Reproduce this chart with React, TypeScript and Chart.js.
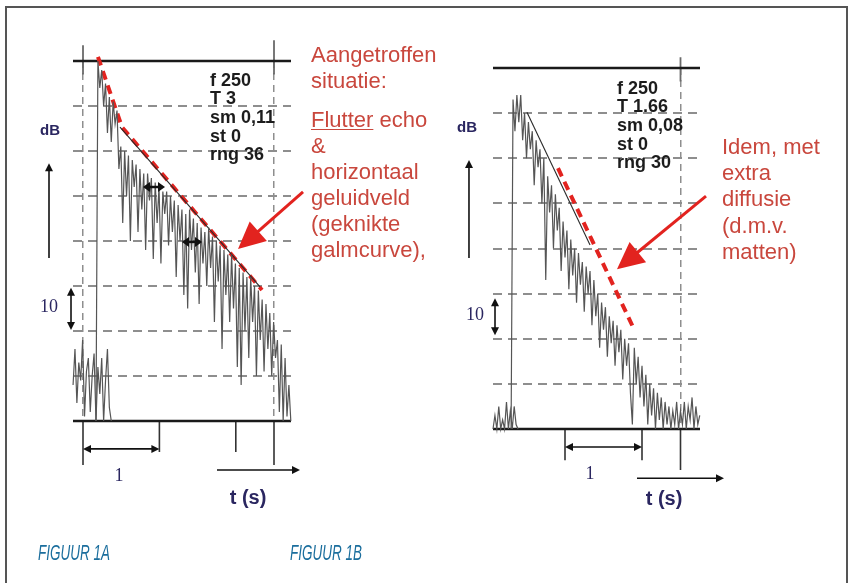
import React, { useEffect, useRef } from "react";
import { Chart, registerables } from "chart.js";

Chart.register(...registerables);

const W = 848;
const H = 583;
const STEP = 0.025; // seconds between samples of the decay traces

// ---------------- Figure 1A data ----------------
const A_NOISE_START = -0.13;
const A_NOISE = [-72, -64, -76, -67, -71, -62, -79, -69, -66, -78, -70, -65, -80, -68, -74, -66, -80, -71, -64, -77, -80];
const A_DECAY_START = 0.17;
const A_DECAY = [
  -80, 0, -6, -2, -10, -5, -16, -8, -18, -9,
  -14, -11, -24, -19, -36, -20, -30, -21, -40, -22,
  -28, -23, -38, -24, -33, -25, -42, -25, -31, -26,
  -44, -27, -36, -28, -45, -29, -34, -29, -41, -30,
  -38, -31, -48, -32, -40, -33, -52, -34, -55, -33,
  -42, -35, -47, -36, -54, -37, -45, -38, -50, -37,
  -46, -39, -58, -40, -49, -41, -64, -42, -52, -43,
  -58, -43, -55, -45, -68, -46, -72, -47, -60, -48,
  -66, -48, -58, -50, -70, -51, -62, -53, -69, -54,
  -64, -56, -70, -58, -66, -62, -78, -63, -80, -66,
  -79, -72, -80,
];
const A_FIT_T = [0.484, 2.317];
const A_FIT_DB = [-14.7, -50.2];
const A_RED_T = [0.196, 0.51, 2.343];
const A_RED_DB = [0.9, -14.7, -50.9];
const A_GRID_DB = [-10, -20, -30, -40, -50, -60, -70];
const A_GRID_T = [0, 2.5];
const A_TICKS_T = [0, 1, 2, 2.5];
const A_STATS = ["f 250", "T 3", "sm 0,11", "st 0", "rng 36"];
const A_NOTE = ["Aangetroffen", "situatie:", "", "Flutter echo", "&", "horizontaal", "geluidveld", "(geknikte", "galmcurve),"];
const A_CAPTION = "FIGUUR 1A";

// ---------------- Figure 1B data ----------------
const B_NOISE_START = 0.065;
const B_NOISE = [-80, -77, -80, -75, -80, -78, -80, -74, -80, -76, -80, -75, -79, -80];
const B_DECAY_START = 0.3;
const B_DECAY = [
  -80, -7, -14, -6, -12, -6, -16, -10, -20, -12,
  -18, -14, -26, -16, -22, -18, -30, -20, -47, -24,
  -32, -26, -40, -28, -36, -31, -45, -34, -42, -36,
  -49, -38, -46, -40, -52, -41, -48, -43, -54, -44,
  -50, -45, -57, -47, -55, -50, -62, -52, -58, -53,
  -64, -55, -61, -56, -66, -57, -63, -58, -69, -60,
  -66, -61, -72, -79, -62, -70, -64, -73, -66, -75,
  -68, -79, -70, -77, -71, -80, -72, -78, -73, -80,
  -74, -79, -75, -80, -76, -79, -74, -80, -76, -79,
  -74, -80, -75, -78, -73, -80, -75, -79, -77,
];
const B_FIT_T = [0.506, 1.325];
const B_FIT_DB = [-9.8, -39.2];
const B_RED_T = [0.909, 1.883];
const B_RED_DB = [-22.2, -57.4];
const B_GRID_DB = [-10, -20, -30, -40, -50, -60, -70];
const B_GRID_T = [2.5];
const B_TICKS_T = [1, 2, 2.5];
const B_STATS = ["f 250", "T 1.66", "sm 0,08", "st 0", "rng 30"];
const B_NOTE = ["Idem, met", "extra", "diffusie", "(d.m.v.", "matten)"];
const B_CAPTION = "FIGUUR 1B";

const AXIS_TEXT = { db: "dB", ten: "10", one: "1", time: "t (s)" };

// ---------------- geometry / styling (not data) ----------------
const GEO_A = { left: 73, right: 291, top: 61, bottom: 421, t0: 83, pps: 76.4 };
const GEO_B = { left: 493, right: 700, top: 68, bottom: 429, t0: 488, pps: 77 };

const RED = "#e2231f";
const TRACE = "#555555";
const NAVY = "#2a2660";
const NOTE_RED = "#c9473d";

type Arrow = { from: number[]; to: number[]; both?: boolean; color: string; width: number; head: number; headW: number };

const BLACK_ARROW = { color: "#111", width: 1.6, head: 8, headW: 8 };

const FIG_A = {
  geo: GEO_A,
  vGrid: A_GRID_T,
  hGrid: A_GRID_DB,
  noise: { start: A_NOISE_START, vals: A_NOISE },
  decay: { start: A_DECAY_START, vals: A_DECAY },
  fit: { t: A_FIT_T, db: A_FIT_DB },
  red: { t: A_RED_T, db: A_RED_DB },
  topExt: [
    [0, 3.5, -3],
    [2.5, 4.6, -3],
  ],
  ticks: A_TICKS_T,
  tickDepth: [-89.8, -86.9, -86.9, -89.8],
  arrows: [
    { from: [0, -86.2], to: [1, -86.2], both: true, ...BLACK_ARROW },
    { from: [1.754, -90.9], to: [2.84, -90.9], ...BLACK_ARROW },
    { from: [-0.445, -43.8], to: [-0.445, -22.7], ...BLACK_ARROW },
    { from: [-0.157, -50.4], to: [-0.157, -59.8], both: true, ...BLACK_ARROW },
    { from: [0.785, -28], to: [1.073, -28], both: true, color: "#111", width: 2.5, head: 7, headW: 10 },
    { from: [1.296, -40.2], to: [1.558, -40.2], both: true, color: "#111", width: 2.5, head: 7, headW: 10 },
    { from: [2.88, -29.1], to: [2.029, -41.8], color: RED, width: 3, head: 27, headW: 26 },
  ] as Arrow[],
};

const FIG_B = {
  geo: GEO_B,
  vGrid: B_GRID_T,
  hGrid: B_GRID_DB,
  noise: { start: B_NOISE_START, vals: B_NOISE },
  decay: { start: B_DECAY_START, vals: B_DECAY },
  fit: { t: B_FIT_T, db: B_FIT_DB },
  red: { t: B_RED_T, db: B_RED_DB },
  topExt: [[2.5, 2.4, -3]],
  ticks: B_TICKS_T,
  tickDepth: [-86.9, -86.9, -89.1],
  arrows: [
    { from: [1, -84], to: [2, -84], both: true, ...BLACK_ARROW },
    { from: [1.935, -90.9], to: [3.065, -90.9], ...BLACK_ARROW },
    { from: [-0.247, -42.1], to: [-0.247, -20.4], ...BLACK_ARROW },
    { from: [0.091, -51], to: [0.091, -59.2], both: true, ...BLACK_ARROW },
    { from: [2.831, -28.4], to: [1.675, -44.6], color: RED, width: 3, head: 27, headW: 26 },
  ] as Arrow[],
};

const series = (start: number, vals: number[]) => vals.map((v, i) => ({ x: start + i * STEP, y: v }));
const pts = (ts: number[], ds: number[]) => ts.map((t, i) => ({ x: t, y: ds[i] }));

function lineDs(data: any[], color: string, width: number, dash: number[] = []) {
  return {
    data,
    borderColor: color,
    borderWidth: width,
    borderDash: dash,
    borderCapStyle: "butt",
    pointRadius: 0,
    fill: false,
    tension: 0,
    clip: false,
  };
}

const arrowPlugin = {
  id: "arrowDeco",
  afterDatasetsDraw(chart: any, _args: any, opts: any) {
    const ctx = chart.ctx as CanvasRenderingContext2D;
    const xs = chart.scales.x;
    const ys = chart.scales.y;
    (opts.arrows || []).forEach((a: Arrow) => {
      const x1 = xs.getPixelForValue(a.from[0]);
      const y1 = ys.getPixelForValue(a.from[1]);
      const x2 = xs.getPixelForValue(a.to[0]);
      const y2 = ys.getPixelForValue(a.to[1]);
      const ang = Math.atan2(y2 - y1, x2 - x1);
      const c = Math.cos(ang);
      const s = Math.sin(ang);
      ctx.save();
      ctx.strokeStyle = a.color;
      ctx.fillStyle = a.color;
      ctx.lineWidth = a.width;
      let sx = x1, sy = y1;
      if (a.both) {
        sx += c * a.head * 0.7;
        sy += s * a.head * 0.7;
      }
      const ex = x2 - c * a.head * 0.7;
      const ey = y2 - s * a.head * 0.7;
      ctx.beginPath();
      ctx.moveTo(sx, sy);
      ctx.lineTo(ex, ey);
      ctx.stroke();
      const head = (hx: number, hy: number, cc: number, ss: number) => {
        ctx.beginPath();
        ctx.moveTo(hx, hy);
        ctx.lineTo(hx - cc * a.head - ss * a.headW / 2, hy - ss * a.head + cc * a.headW / 2);
        ctx.lineTo(hx - cc * a.head + ss * a.headW / 2, hy - ss * a.head - cc * a.headW / 2);
        ctx.closePath();
        ctx.fill();
      };
      head(x2, y2, c, s);
      if (a.both) head(x1, y1, -c, -s);
      ctx.restore();
    });
  },
};

function buildChart(canvas: HTMLCanvasElement, fig: typeof FIG_A) {
  const g = fig.geo;
  const xMin = (g.left - g.t0) / g.pps;
  const xMax = (g.right - g.t0) / g.pps;
  const datasets: any[] = [];
  datasets.push(lineDs(series(fig.noise.start, fig.noise.vals), TRACE, 1.2));
  datasets.push(lineDs(series(fig.decay.start, fig.decay.vals), TRACE, 1.2));
  datasets.push(lineDs(pts(fig.fit.t, fig.fit.db), "#2a2a2a", 1.1));
  datasets.push(lineDs(pts(fig.red.t, fig.red.db), RED, 4, [9, 6]));
  // top reference line (0 dB) and time axis (-80 dB)
  datasets.push(lineDs([{ x: xMin, y: 0 }, { x: xMax, y: 0 }], "#1a1a1a", 2.5));
  datasets.push(lineDs([{ x: xMin, y: -80 }, { x: xMax, y: -80 }], "#1a1a1a", 2.5));
  fig.topExt.forEach((e) => {
    datasets.push(lineDs([{ x: e[0], y: e[1] }, { x: e[0], y: e[2] }], "#6a6a6a", 1.8));
  });
  fig.ticks.forEach((t, i) => {
    datasets.push(lineDs([{ x: t, y: -80 }, { x: t, y: fig.tickDepth[i] }], "#333", 1.6));
  });

  return new Chart(canvas, {
    type: "line",
    data: { datasets },
    options: {
      animation: false,
      responsive: false,
      maintainAspectRatio: false,
      devicePixelRatio: 1,
      events: [],
      layout: { padding: { left: g.left, right: W - g.right, top: g.top, bottom: H - g.bottom } },
      plugins: {
        legend: { display: false },
        tooltip: { enabled: false },
        arrowDeco: { arrows: fig.arrows },
      } as any,
      scales: {
        x: {
          type: "linear",
          min: xMin,
          max: xMax,
          ticks: { display: false },
          grid: { drawTicks: false, color: "#8e8e8e", lineWidth: 1.5 },
          border: { display: false, dash: [7, 5] },
          afterBuildTicks: (s: any) => {
            s.ticks = fig.vGrid.map((v) => ({ value: v }));
          },
        },
        y: {
          type: "linear",
          min: -80,
          max: 0,
          ticks: { display: false },
          grid: { drawTicks: false, color: "#8e8e8e", lineWidth: 2 },
          border: { display: false, dash: [9, 6] },
          afterBuildTicks: (s: any) => {
            s.ticks = fig.hGrid.map((v) => ({ value: v }));
          },
        },
      },
    } as any,
    plugins: [arrowPlugin],
  });
}

const SANS = '"Liberation Sans", Arial, Helvetica, sans-serif';
const SERIF = '"Liberation Serif", "Times New Roman", serif';

function Txt(props: { x: number; cy: number; size: number; lh?: number; color: string; bold?: boolean; font?: string; center?: boolean; italic?: boolean; children: any; extra?: any }) {
  const lh = props.lh ?? props.size * 1.15;
  return (
    <div
      style={{
        position: "absolute",
        left: props.x,
        top: props.cy - lh / 2,
        lineHeight: lh + "px",
        fontSize: props.size,
        fontFamily: props.font ?? SANS,
        fontWeight: props.bold ? "bold" : "normal",
        fontStyle: props.italic ? "italic" : "normal",
        color: props.color,
        whiteSpace: "nowrap",
        transform: props.center ? "translateX(-50%)" : undefined,
        ...(props.extra || {}),
      }}
    >
      {props.children}
    </div>
  );
}

function Lines(props: { x: number; cy: number; size: number; lh: number; color: string; bold?: boolean; lines: string[]; underlineFirst?: string }) {
  return (
    <div
      style={{
        position: "absolute",
        left: props.x,
        top: props.cy - props.lh / 2,
        fontSize: props.size,
        lineHeight: props.lh + "px",
        fontFamily: SANS,
        fontWeight: props.bold ? "bold" : "normal",
        color: props.color,
        whiteSpace: "nowrap",
      }}
    >
      {props.lines.map((l, i) => {
        if (l === "") return <div key={i} style={{ height: props.lh / 2 }} />;
        if (props.underlineFirst && l.startsWith(props.underlineFirst)) {
          return (
            <div key={i}>
              <span style={{ textDecoration: "underline", textDecorationThickness: "1px", textUnderlineOffset: "2px" }}>{props.underlineFirst}</span>
              {l.slice(props.underlineFirst.length)}
            </div>
          );
        }
        return <div key={i}>{l}</div>;
      })}
    </div>
  );
}

export default function App() {
  const refA = useRef<HTMLCanvasElement>(null);
  const refB = useRef<HTMLCanvasElement>(null);

  useEffect(() => {
    const a = buildChart(refA.current as HTMLCanvasElement, FIG_A);
    const b = buildChart(refB.current as HTMLCanvasElement, FIG_B as any);
    return () => {
      a.destroy();
      b.destroy();
    };
  }, []);

  const canvasStyle: any = { position: "absolute", left: 0, top: 0, width: W, height: H };
  const captionExtra = { transform: "scaleX(0.6)", transformOrigin: "left center" };

  return (
    <div style={{ position: "absolute", left: 0, top: 0, width: W, height: H, background: "#fff", overflow: "hidden" }}>
      <div
        style={{
          position: "absolute",
          left: 5,
          top: 6,
          width: 843,
          height: 620,
          boxSizing: "border-box",
          border: "2px solid #555",
        }}
      />
      <canvas ref={refA} width={W} height={H} style={canvasStyle} />
      <canvas ref={refB} width={W} height={H} style={canvasStyle} />

      {/* Figure 1A texts */}
      <Lines x={210} cy={80} size={18} lh={18.7} color="#1c1c1c" bold lines={A_STATS} />
      <Lines x={311} cy={55} size={22} lh={26} color={NOTE_RED} lines={A_NOTE} underlineFirst="Flutter" />
      <Txt x={50} cy={130} size={15} color={NAVY} bold center>{AXIS_TEXT.db}</Txt>
      <Txt x={49} cy={306} size={18} color={NAVY} font={SERIF} center>{AXIS_TEXT.ten}</Txt>
      <Txt x={119} cy={475} size={18} color={NAVY} font={SERIF} center>{AXIS_TEXT.one}</Txt>
      <Txt x={248} cy={497} size={20} color={NAVY} bold center>{AXIS_TEXT.time}</Txt>
      <Txt x={38} cy={553} size={22.5} color="#1b6e9d" italic extra={captionExtra}>{A_CAPTION}</Txt>

      {/* Figure 1B texts */}
      <Lines x={617} cy={88} size={18} lh={18.7} color="#1c1c1c" bold lines={B_STATS} />
      <Lines x={722} cy={147} size={22} lh={26.2} color={NOTE_RED} lines={B_NOTE} />
      <Txt x={467} cy={127} size={15} color={NAVY} bold center>{AXIS_TEXT.db}</Txt>
      <Txt x={475} cy={314} size={18} color={NAVY} font={SERIF} center>{AXIS_TEXT.ten}</Txt>
      <Txt x={590} cy={473} size={18} color={NAVY} font={SERIF} center>{AXIS_TEXT.one}</Txt>
      <Txt x={664} cy={498} size={20} color={NAVY} bold center>{AXIS_TEXT.time}</Txt>
      <Txt x={290} cy={553} size={22.5} color="#1b6e9d" italic extra={captionExtra}>{B_CAPTION}</Txt>
    </div>
  );
}
